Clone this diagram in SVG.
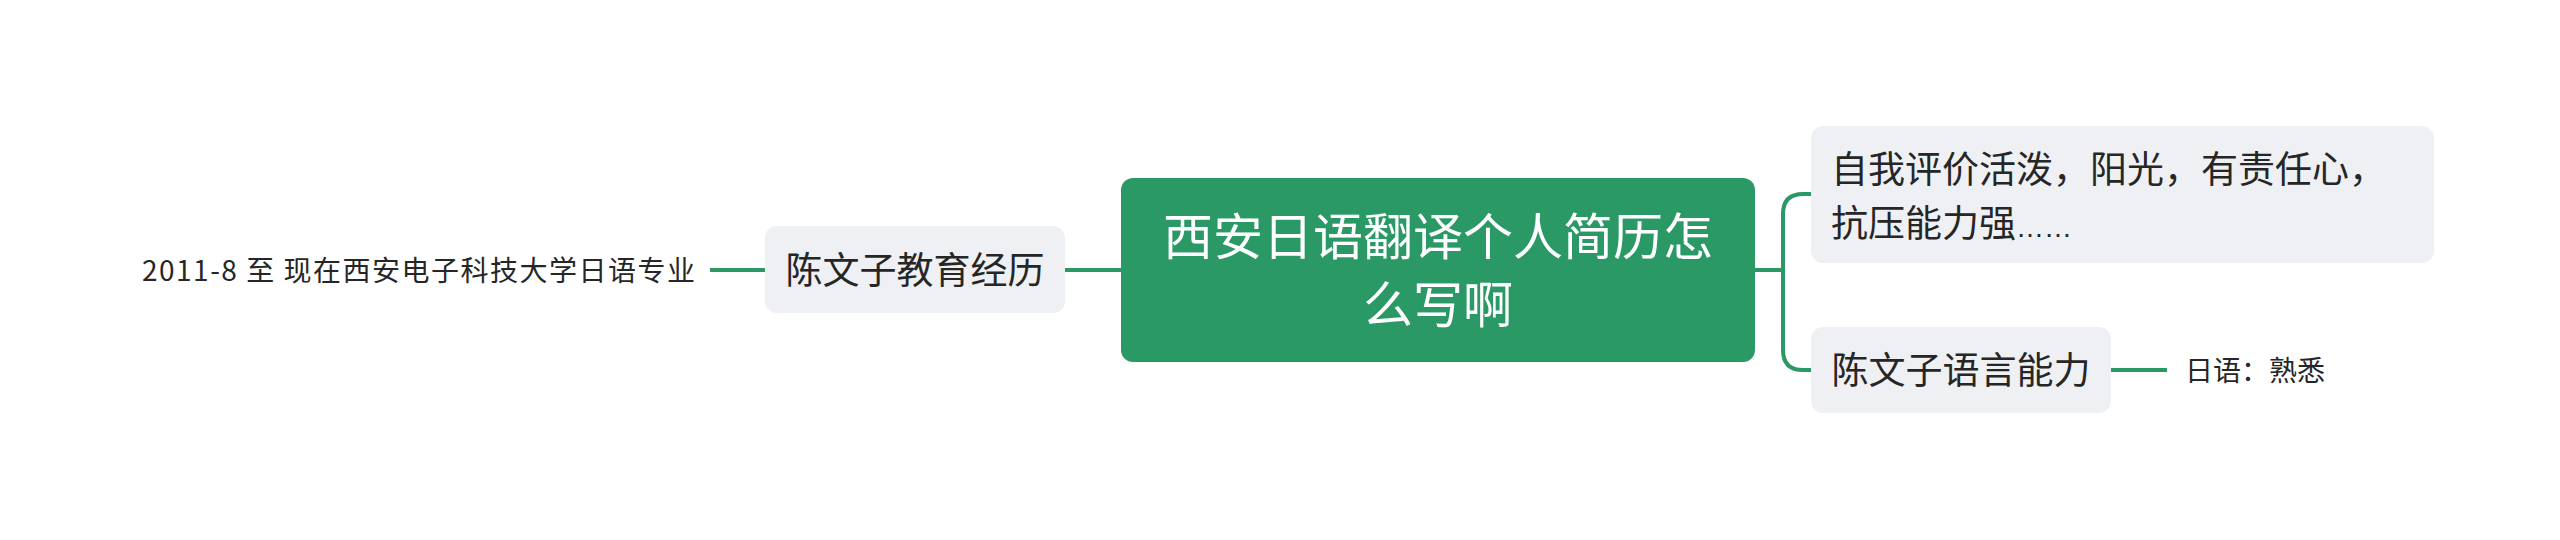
<svg xmlns="http://www.w3.org/2000/svg" width="2560" height="540" viewBox="0 0 2560 540">
<style>
.conn{fill:none;stroke:#2a9966;stroke-width:4;stroke-linecap:butt}
.sub{fill:#eef0f3}
.t{font-family:"Noto Sans CJK SC","Noto Sans",sans-serif;fill:#262626}
.root-t{font-family:"Noto Sans CJK SC","Noto Sans",sans-serif;fill:#ffffff;font-size:50px}
.ell{font-family:"Liberation Sans","Noto Sans CJK SC",sans-serif}
</style>
<rect width="2560" height="540" fill="#ffffff"/>
<g id="connectors">
<line class="conn" x1="1065" y1="270" x2="1121" y2="270"/>
<line class="conn" x1="710" y1="270" x2="765" y2="270"/>
<path class="conn" d="M1755 270 H1783 M1811 194 H1803 Q1783 194 1783 214 V350 Q1783 370 1803 370 H1811"/>
<line class="conn" x1="2111" y1="370" x2="2167" y2="370"/>
</g>
<g id="root">
<rect x="1121" y="178" width="634" height="184" rx="12" fill="#2a9966"/>
<text class="root-t" x="1438" y="255" text-anchor="middle">西安日语翻译个人简历怎</text>
<text class="root-t" x="1438" y="323" text-anchor="middle">么写啊</text>
</g>
<g id="node-edu">
<rect class="sub" x="765" y="226" width="300" height="87" rx="12"/>
<text class="t" x="915" y="284" font-size="37" text-anchor="middle">陈文子教育经历</text>
</g>
<g id="leaf-edu">
<text class="t" x="142" y="281" font-size="28" textLength="553" lengthAdjust="spacing">2011-8 至 现在西安电子科技大学日语专业</text>
</g>
<g id="node-self">
<rect class="sub" x="1811" y="126" width="623" height="137" rx="12"/>
<text class="t" x="1831" y="183" font-size="37">自我评价活泼，阳光，有责任心，</text>
<text class="t" x="1831" y="237" font-size="37">抗压能力强<tspan class="ell" font-size="28">……</tspan></text>
</g>
<g id="node-lang">
<rect class="sub" x="1811" y="327" width="300" height="86" rx="12"/>
<text class="t" x="1961" y="384" font-size="37" text-anchor="middle">陈文子语言能力</text>
</g>
<g id="leaf-lang">
<text class="t" x="2185" y="381" font-size="28">日语：熟悉</text>
</g>
</svg>
